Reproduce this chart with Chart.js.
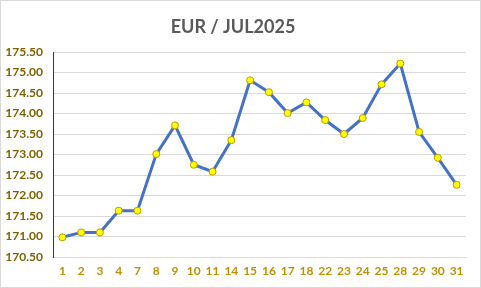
<!DOCTYPE html>
<html>
<head>
<meta charset="utf-8">
<script src="https://cdn.jsdelivr.net/npm/chart.js@4"></script>
<style>
  html, body { margin: 0; padding: 0; background: #fff; }
  #wrap { width: 481px; height: 288px; position: relative; }
</style>
</head>
<body>
<div id="wrap"><canvas id="eurChart"></canvas></div>
<script>
/* ====== DATA ====== */
const days = ["1", "2", "3", "4", "7", "8", "9", "10", "11", "14", "15",
              "16", "17", "18", "22", "23", "24", "25", "28", "29", "30", "31"];
const rates = [170.98, 171.10, 171.10, 171.63, 171.63, 173.01, 173.71, 172.75,
               172.58, 173.35, 174.81, 174.52, 174.01, 174.27, 173.84, 173.50,
               173.89, 174.71, 175.22, 173.55, 172.92, 172.26];
const yTicks = [170.5, 171, 171.5, 172, 172.5, 173, 173.5, 174, 174.5, 175, 175.5];

const FONT = "Lato, 'Open Sans', sans-serif";

/* ====== BACKGROUND + FRAME ====== */
const framePlugin = {
    id: "frame",
    beforeDraw(chart) {
        const c = chart.ctx;
        c.save();
        c.fillStyle = "#ffffff";
        c.fillRect(0, 0, chart.width, chart.height);
        c.strokeStyle = "#d9d9d9";
        c.lineWidth = 1;
        c.strokeRect(0.5, 0.5, chart.width - 1, chart.height - 1);
        c.restore();
    }
};

/* ====== LINE CHART ====== */
new Chart(document.getElementById("eurChart"), {
    type: "line",
    data: {
        labels: days,
        datasets: [{
            label: "EUR",
            data: rates,
            borderColor: "#4472c4",
            borderWidth: 3,
            tension: 0,
            pointRadius: 3.5,
            pointHoverRadius: 3.5,
            pointBackgroundColor: "#ffff00",
            pointBorderColor: "#c09a00",
            pointBorderWidth: 1
        }]
    },
    options: {
        responsive: true,
        maintainAspectRatio: false,
        animation: false,
        layout: { padding: { left: 0, right: 15, top: 0, bottom: 0 } },
        plugins: {
            legend: { display: false },
            tooltip: { enabled: false },
            title: {
                display: true,
                text: "EUR / JUL2025",
                color: "#595959",
                font: { family: FONT, size: 18, weight: "bold" },
                padding: { top: 16, bottom: 14.4 }
            }
        },
        scales: {
            x: {
                offset: true,
                grid: { display: false, drawTicks: false },
                border: { color: "#d9d9d9", width: 1 },
                ticks: {
                    color: "#bf9000",
                    padding: 7,
                    maxRotation: 0,
                    autoSkip: false,
                    font: { family: FONT, size: 12, weight: "bold" }
                },
                afterFit(scale) { scale.height = 31; }
            },
            y: {
                min: 170.5,
                max: 175.5,
                afterBuildTicks(scale) {
                    scale.ticks = yTicks.map(v => ({ value: v }));
                },
                grid: { color: "#d9d9d9", drawTicks: false },
                border: { color: "#c00000", width: 1 },
                ticks: {
                    color: "#7f6000",
                    padding: 10,
                    font: { family: FONT, size: 12, weight: "bold" },
                    callback: v => Number(v).toFixed(2)
                },
                afterFit(scale) { scale.width = 53; }
            }
        }
    },
    plugins: [framePlugin]
});
</script>
</body>
</html>
